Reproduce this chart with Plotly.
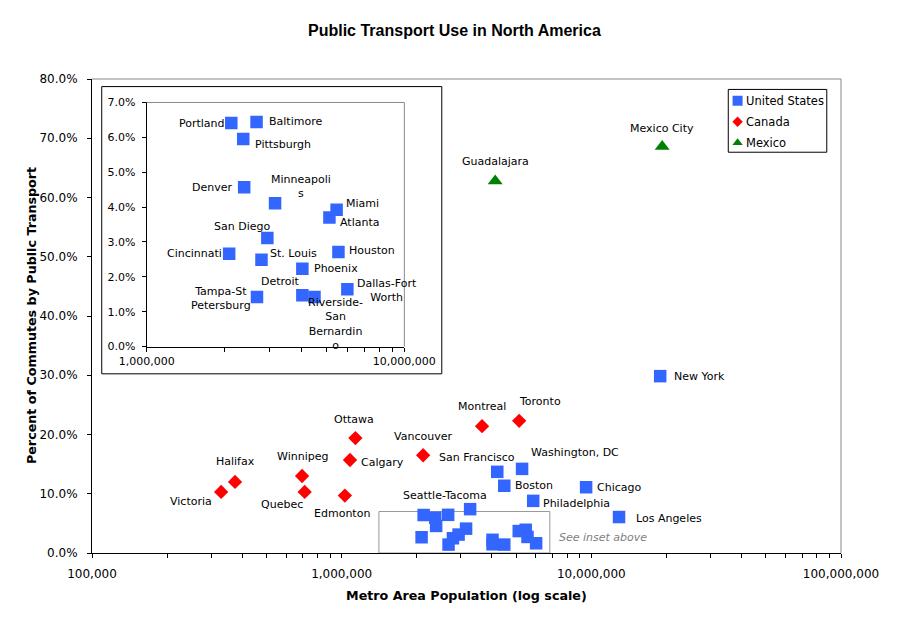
import math
import plotly.graph_objects as go

# ---- data ----
us_cities = ["New York", "Los Angeles", "Chicago", "Washington, DC", "San Francisco",
             "Boston", "Philadelphia", "Seattle-Tacoma", "Portland", "Baltimore",
             "Pittsburgh", "Denver", "Minneapolis", "Miami", "Atlanta", "San Diego",
             "Cincinnati", "St. Louis", "Houston", "Phoenix", "Dallas-Fort Worth",
             "Tampa-St Petersburg", "Detroit", "Riverside-San Bernardino"]
us_pop = [18.87e6, 12.91e6, 9.53e6, 5.28e6, 4.20e6,
          4.48e6, 5.85e6, 3.27e6, 2.13e6, 2.67e6,
          2.37e6, 2.39e6, 3.15e6, 5.46e6, 5.12e6, 2.94e6,
          2.09e6, 2.79e6, 5.55e6, 4.02e6, 6.01e6,
          2.68e6, 4.02e6, 4.48e6]
us_pct = [29.85, 6.07, 11.1, 14.2, 13.7,
          11.35, 8.8, 7.4, 6.41, 6.44,
          5.95, 4.57, 4.11, 3.92, 3.70, 3.11,
          2.66, 2.49, 2.71, 2.23, 1.64,
          1.42, 1.47, 1.42]

ca_cities = ["Toronto", "Montreal", "Vancouver", "Ottawa", "Calgary",
             "Edmonton", "Quebec", "Winnipeg", "Halifax", "Victoria"]
ca_pop = [5.14e6, 3.65e6, 2.12e6, 1.135e6, 1.08e6,
          1.03e6, 0.711e6, 0.694e6, 0.374e6, 0.329e6]
ca_pct = [22.3, 21.4, 16.5, 19.4, 15.7,
          9.7, 10.3, 13.0, 12.0, 10.3]

mx_cities = ["Mexico City", "Guadalajara"]
mx_pop = [19.22e6, 4.12e6]
mx_pct = [68.6, 62.8]

# inset covers this part of the main chart
inset_x = [1e6, 1e7]
inset_ymax = 7.0
inset_box = [1.41e6, 6.82e6]

# ---- label placement (screen px offset from marker centre, dy down) ----
main_labels = {
    "Mexico City": (0, -18), "Guadalajara": (0, -19), "New York": (39, 0),
    "Toronto": (21, -19), "Montreal": (0, -20), "Ottawa": (-1, -19),
    "Vancouver": (0, -19), "Calgary": (32, 3), "San Francisco": (-20, -14),
    "Washington, DC": (53, -16), "Winnipeg": (0, -19), "Halifax": (0, -20),
    "Victoria": (-30, 10), "Quebec": (-23, 13), "Edmonton": (-3, 18),
    "Boston": (30, 0), "Chicago": (33, 0), "Philadelphia": (43, 3),
    "Seattle-Tacoma": (-25, -14), "Los Angeles": (50, 1),
}
inset_labels = {
    "Portland": (-29, 0), "Baltimore": (39, 0), "Pittsburgh": (40, 5),
    "Denver": (-32, 0), "Minneapolis": (26, -17), "Miami": (26, -6),
    "Atlanta": (30, 5), "San Diego": (-25, -12), "Cincinnati": (-35, 0),
    "St. Louis": (32, -6), "Houston": (34, -2), "Phoenix": (34, 0),
    "Detroit": (-22, -14), "Dallas-Fort Worth": (40, 1),
    "Tampa-St Petersburg": (-36, 1), "Riverside-San Bernardino": (21, 27),
}
wrapped = {
    "Minneapolis": "Minneapoli<br>s",
    "Dallas-Fort Worth": "Dallas-Fort<br>Worth",
    "Tampa-St Petersburg": "Tampa-St<br>Petersburg",
    "Riverside-San Bernardino": "Riverside-<br>San<br>Bernardin<br>o",
}

FONT = "DejaVu Sans"
BLUE, RED, GREEN = "#3366FF", "#FF0000", "#008000"
GRAY = "#888888"

fig = go.Figure()

series = [
    ("United States", us_cities, us_pop, us_pct, "square", BLUE, 12.5, 10),
    ("Canada", ca_cities, ca_pop, ca_pct, "diamond", RED, 11, 8),
    ("Mexico", mx_cities, mx_pop, mx_pct, "triangle-up", GREEN, 13, 9),
]
for name, cities, pop, pct, sym, col, size, lsize in series:
    fig.add_trace(go.Scatter(
        x=pop, y=pct, mode="markers", name=name, text=cities, showlegend=False,
        marker=dict(symbol=sym, color=col, size=size, opacity=1, line=dict(width=0)),
        xaxis="x", yaxis="y", hoverinfo="text+x+y"))

# inset: US cities inside the boxed region
in_idx = [i for i in range(len(us_cities))
          if inset_x[0] <= us_pop[i] <= inset_x[1] and us_pct[i] <= inset_ymax]
fig.add_trace(go.Scatter(
    x=[us_pop[i] for i in in_idx], y=[us_pct[i] for i in in_idx],
    text=[us_cities[i] for i in in_idx], mode="markers", showlegend=False,
    marker=dict(symbol="square", color=BLUE, size=12.5, opacity=1, line=dict(width=0)),
    xaxis="x2", yaxis="y2", hoverinfo="text+x+y"))

# hand-made legend (small box axes, pixel units inside the box)
LEG_W, LEG_H, LEG_ROW, LEG_TOP = 98.4, 63, 21, 11.4
for k, s in enumerate(series):
    fig.add_trace(go.Scatter(
        x=[9.3], y=[LEG_TOP + LEG_ROW * k], mode="markers", showlegend=False,
        hoverinfo="skip", xaxis="x3", yaxis="y3",
        marker=dict(symbol=s[4], color=s[5], size=s[7], opacity=1,
                    line=dict(width=0))))

annotations = []
for k, s in enumerate(series):
    annotations.append(dict(
        x=15.5, y=LEG_TOP + LEG_ROW * k, xref="x3", yref="y3", text=s[0],
        showarrow=False, xanchor="left", yanchor="middle",
        font=dict(family=FONT, size=11.5, color="black")))

for name, cities, pop, pct, *_ in series:
    for c, p, v in zip(cities, pop, pct):
        if c in main_labels:
            dx, dy = main_labels[c]
            annotations.append(dict(
                x=math.log10(p), y=v, xref="x", yref="y", text=wrapped.get(c, c),
                showarrow=False, xshift=dx, yshift=-dy, xanchor="center",
                yanchor="middle", font=dict(family=FONT, size=11, color="black")))
for i in in_idx:
    c = us_cities[i]
    dx, dy = inset_labels[c]
    annotations.append(dict(
        x=math.log10(us_pop[i]), y=us_pct[i], xref="x2", yref="y2",
        text=wrapped.get(c, c), showarrow=False, xshift=dx, yshift=-dy,
        xanchor="center", yanchor="middle",
        font=dict(family=FONT, size=11, color="black")))

annotations += [
    dict(x=math.log10(inset_box[1]), y=inset_ymax / 2, xref="x", yref="y",
         text="<i>See inset above</i>", showarrow=False, xanchor="left",
         yanchor="middle", xshift=7, yshift=-5,
         font=dict(family=FONT, size=11, color="#808080")),
    dict(x=0.4846, y=1.1025, xref="paper", yref="paper", xanchor="center",
         yanchor="middle", text="<b>Public Transport Use in North America</b>",
         showarrow=False, font=dict(family="Liberation Sans", size=16, color="black")),
    dict(x=0.5, y=-0.0894, xref="paper", yref="paper", xanchor="center",
         yanchor="middle", text="<b>Metro Area Population (log scale)</b>",
         showarrow=False, font=dict(family=FONT, size=12.7, color="black")),
    dict(x=-0.0814, y=0.5, xref="paper", yref="paper", textangle=-90,
         xanchor="center", yanchor="middle",
         text="<b>Percent of Commutes by Public Transport</b>", showarrow=False,
         font=dict(family=FONT, size=12.7, color="black")),
]


def log_ticks(lo, hi):
    vals, txt = [], []
    for e in range(lo, hi + 1):
        for m in range(1, 10):
            if e == hi and m > 1:
                break
            vals.append(m * 10 ** e)
            txt.append(f"{10 ** e:,}" if m == 1 else "")
    return vals, txt


mx_vals, mx_txt = log_ticks(5, 8)
ix_vals, ix_txt = log_ticks(6, 7)

axis_common = dict(showline=True, linecolor="black", linewidth=1, ticks="outside",
                   ticklen=4, tickcolor="black", showgrid=False, zeroline=False)

shapes = [
    # main plot area gray border (top / right)
    dict(type="line", xref="paper", yref="paper", x0=0, x1=1, y0=1, y1=1,
         line=dict(color=GRAY, width=1)),
    dict(type="line", xref="paper", yref="paper", x0=1, x1=1, y0=0, y1=1,
         line=dict(color=GRAY, width=1)),
    # inset frame
    dict(type="rect", xref="paper", yref="paper", x0=0.013, x1=0.467,
         y0=0.378, y1=0.984, line=dict(color="black", width=1),
         fillcolor="rgba(0,0,0,0)", layer="below"),
    dict(type="line", xref="x2 domain", yref="y2 domain", x0=0, x1=1, y0=1, y1=1,
         line=dict(color=GRAY, width=1)),
    dict(type="line", xref="x2 domain", yref="y2 domain", x0=1, x1=1, y0=0, y1=1,
         line=dict(color=GRAY, width=1)),
    # legend frame
    dict(type="rect", xref="x3 domain", yref="y3 domain", x0=0, x1=1, y0=0, y1=1,
         line=dict(color="black", width=1), fillcolor="rgba(0,0,0,0)", layer="below"),
    # "see inset" box on main chart
    dict(type="rect", xref="x", yref="y", x0=inset_box[0], x1=inset_box[1],
         y0=0, y1=inset_ymax, line=dict(color="#999999", width=1), layer="below"),
]

hidden = dict(visible=False, showgrid=False, zeroline=False, fixedrange=True)

# page body has an 8px margin, so the figure is 8px smaller and shifted
fig.update_layout(
    width=903, height=615,
    margin=dict(l=84, r=70, t=71, b=70),
    paper_bgcolor="white", plot_bgcolor="rgba(0,0,0,0)",
    font=dict(family=FONT, color="black"),
    xaxis=dict(type="log", range=[5, 8], tickmode="array", tickvals=mx_vals,
               ticktext=mx_txt, tickfont=dict(size=12), ticklabelstandoff=6,
               domain=[0, 1], **axis_common),
    yaxis=dict(range=[0, 80], dtick=10, tickformat=".1f", ticksuffix="%",
               tickfont=dict(size=12), ticklabelstandoff=7, domain=[0, 1],
               **axis_common),
    xaxis2=dict(type="log", range=[6, 7], tickmode="array", tickvals=ix_vals,
                ticktext=ix_txt, tickfont=dict(size=11), ticklabelstandoff=0,
                domain=[0.073, 0.417], anchor="y2", **axis_common),
    yaxis2=dict(range=[0, 7], dtick=1, tickformat=".1f", ticksuffix="%",
                tickfont=dict(size=11), ticklabelstandoff=4,
                domain=[0.4356, 0.9505], anchor="x2", **axis_common),
    xaxis3=dict(range=[0, LEG_W], domain=[0.8495, 0.981], anchor="y3", **hidden),
    yaxis3=dict(range=[LEG_H, 0], domain=[0.8455, 0.978], anchor="x3", **hidden),
    shapes=shapes,
    annotations=annotations,
    showlegend=False,
)

fig.write_html("out.html")
